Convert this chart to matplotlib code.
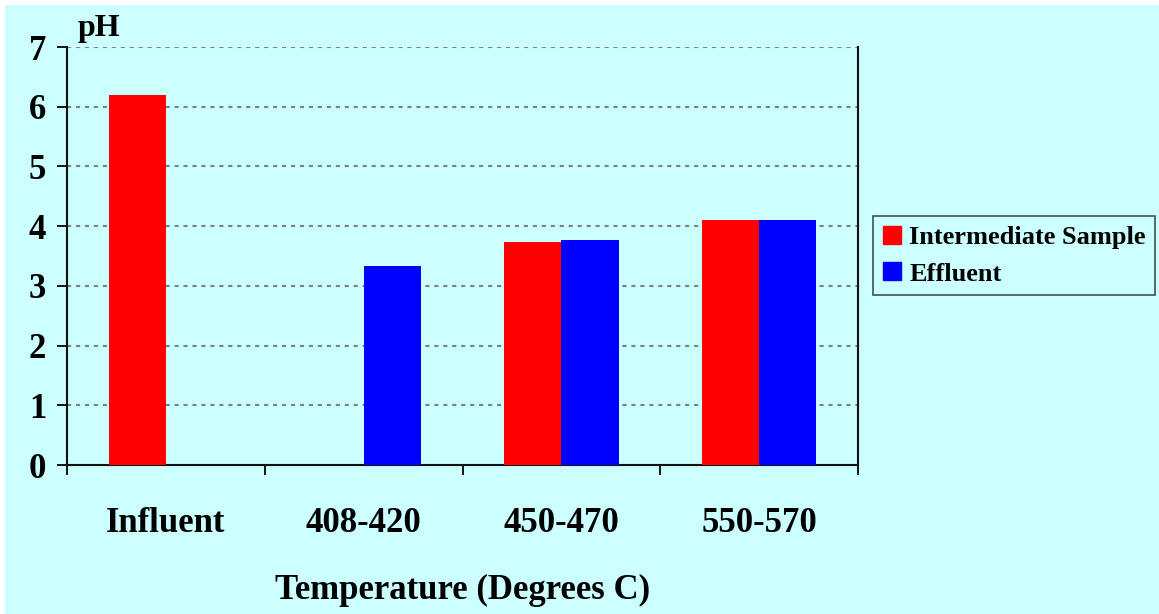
import numpy as np
import matplotlib.pyplot as plt
from matplotlib.patches import Rectangle
from matplotlib.lines import Line2D

# pH readings by temperature range
categories = ['Influent', '408-420', '450-470', '550-570']
intermediate = [6.2, np.nan, 3.74, 4.10]
effluent = [np.nan, 3.33, 3.77, 4.10]

bg = '#CCFFFF'
plt.rcParams['font.family'] = ['Liberation Serif', 'DejaVu Serif']
plt.rcParams['font.weight'] = 'bold'

fig = plt.figure(figsize=(11.59, 6.14), dpi=100, facecolor='white')
fig.patches.append(Rectangle((5 / 1159, 0), 1, 1 - 5 / 614, transform=fig.transFigure,
                             facecolor=bg, edgecolor='none', zorder=-10))
ax = fig.add_axes([67 / 1159, 1 - 465 / 614, (858 - 67) / 1159, (465 - 47) / 614])
ax.set_facecolor(bg)

index = np.arange(len(categories))
w = 0.29
ax.bar(index - w / 2, intermediate, w, color='#FF0000', label='Intermediate Sample', zorder=3)
ax.bar(index + w / 2, effluent, w, color='#0000FF', label='Effluent', zorder=3)

ax.set_xlim(-0.5, len(categories) - 0.5)
ax.set_ylim(0, 7)
ax.set_yticks(np.arange(0, 8, 1))
ax.set_xticks(index)
ax.set_xticklabels(categories)
ax.set_xticks(np.arange(-0.5, len(categories)), minor=True)
ax.tick_params(axis='x', which='major', length=0, pad=30, labelsize=25)
ax.tick_params(axis='x', which='minor', length=7, width=1.3, direction='out')
ax.tick_params(axis='y', length=7, width=1.3, pad=8, labelsize=25)

for tick in np.arange(1, 8, 1):
    ax.axhline(y=tick, color='#808080', linestyle=(0, (2, 2.3)), linewidth=1.5, zorder=1)

ax.spines['top'].set_visible(False)
for s in ['left', 'bottom', 'right']:
    ax.spines[s].set_linewidth(1.5)
    ax.spines[s].set_color('#111111')

ax.set_xlabel('Temperature (Degrees C)', fontsize=25, fontweight='bold', labelpad=25)
ax.text(0.014, 1.026, 'pH', transform=ax.transAxes, fontsize=23, fontweight='bold',
        ha='left', va='baseline')

handles = [Line2D([], [], marker='s', linestyle='none', markersize=13, color='#FF0000'),
           Line2D([], [], marker='s', linestyle='none', markersize=13, color='#0000FF')]
leg = fig.legend(handles, ['Intermediate Sample', 'Effluent'], loc='upper left',
                 bbox_to_anchor=(873 / 1159, 1 - 216 / 614), prop={'size': 19, 'weight': 'bold'},
                 frameon=True, fancybox=False, edgecolor='#222222', facecolor=bg,
                 handlelength=0.72, handletextpad=0.3, borderpad=0.36, labelspacing=0.5,
                 borderaxespad=0)
leg.get_frame().set_linewidth(1.2)

fig.savefig('out.png', dpi=100, facecolor=fig.get_facecolor())
